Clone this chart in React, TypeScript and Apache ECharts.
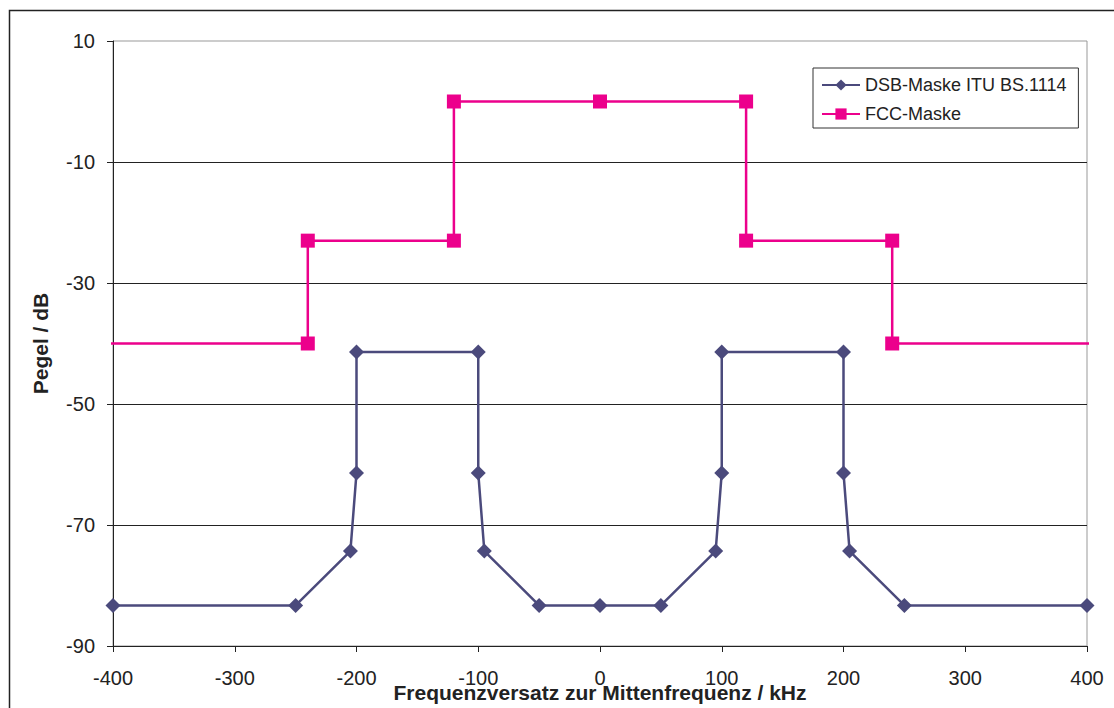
import React, { useEffect, useRef } from "react";
import * as echarts from "echarts";

const dsbX = [-400, -250, -205, -200, -200, -100, -100, -95, -50, 0, 50, 95, 100, 100, 200, 200, 205, 250, 400];
const dsbY = [-83.3, -83.3, -74.3, -61.4, -41.4, -41.4, -61.4, -74.3, -83.3, -83.3, -83.3, -74.3, -61.4, -41.4, -41.4, -61.4, -74.3, -83.3, -83.3];
const fccX = [-407, -240, -240, -120, -120, 0, 120, 120, 240, 240, 408];
const fccY = [-40, -40, -23, -23, 0, 0, 0, -23, -23, -40, -40];
const yTicks = [-90, -70, -50, -30, -10, 10];
const seriesNames = ["DSB-Maske ITU BS.1114", "FCC-Maske"];
const xTitle = "Frequenzversatz zur Mittenfrequenz / kHz";
const yTitle = "Pegel / dB";

const FONT = "'Liberation Sans', Arial, sans-serif";

export default function App() {
  const ref = useRef<HTMLDivElement>(null);
  useEffect(() => {
    if (!ref.current) return;
    const chart = echarts.init(ref.current, null, { renderer: "svg" });
    const fccData = fccX.map((x, i) => {
      const item: any = { value: [x, fccY[i]] };
      if (i === 0 || i === fccX.length - 1) item.symbol = "none";
      return item;
    });
    chart.setOption({
      animation: false,
      backgroundColor: "#ffffff",
      textStyle: { fontFamily: FONT },
      graphic: [
        {
          type: "rect",
          shape: { x: 9.5, y: 10.5, width: 1200, height: 1000 },
          style: { fill: "none", stroke: "#222", lineWidth: 1.5 },
          silent: true,
          z: -10,
        },
      ],
      grid: {
        left: 113,
        right: 27,
        top: 41,
        bottom: 62,
        containLabel: false,
        outerBoundsMode: "none",
        show: true,
        borderColor: "#999",
        borderWidth: 1,
        backgroundColor: "transparent",
      },
      legend: {
        orient: "vertical",
        left: 813,
        top: 68,
        padding: [8, 12, 5, 8],
        itemGap: 11,
        itemWidth: 38,
        itemHeight: 14,
        itemTextGap: 6,
        borderColor: "#333",
        borderWidth: 1,
        backgroundColor: "#fff",
        textStyle: { fontFamily: FONT, fontSize: 18, color: "#222" },
        data: seriesNames,
      },
      xAxis: {
        type: "value",
        min: -400,
        max: 400,
        interval: 100,
        name: xTitle,
        nameLocation: "middle",
        nameGap: 36,
        nameMoveOverlap: false,
        nameTextStyle: { fontFamily: FONT, fontSize: 21, fontWeight: "bold", color: "#222" },
        axisLine: { show: true, onZero: false, lineStyle: { color: "#222", width: 1 } },
        axisTick: { show: true, inside: false, length: 6, lineStyle: { color: "#222" } },
        axisLabel: { fontFamily: FONT, fontSize: 20, color: "#222", margin: 22 },
        splitLine: { show: false },
      },
      yAxis: {
        type: "value",
        min: -90,
        max: 10,
        name: yTitle,
        nameLocation: "middle",
        nameGap: 62,
        nameRotate: 90,
        nameMoveOverlap: false,
        nameTextStyle: { fontFamily: FONT, fontSize: 21, fontWeight: "bold", color: "#222" },
        axisLine: { show: true, onZero: false, lineStyle: { color: "#222", width: 1 } },
        axisTick: { show: true, inside: false, length: 6, lineStyle: { color: "#222" }, customValues: yTicks },
        axisLabel: { fontFamily: FONT, fontSize: 20, color: "#222", margin: 18, customValues: yTicks },
        splitLine: { show: true, showMinLine: false, showMaxLine: false, lineStyle: { color: "#222", width: 1 } },
      },
      series: [
        {
          name: seriesNames[0],
          type: "line",
          data: dsbX.map((x, i) => [x, dsbY[i]]),
          symbol: "diamond",
          symbolSize: 15,
          clip: false,
          color: "#4B4A7C",
          lineStyle: { color: "#4B4A7C", width: 2.5 },
          itemStyle: { color: "#4B4A7C" },
          z: 3,
        },
        {
          name: seriesNames[1],
          type: "line",
          data: fccData,
          symbol: "rect",
          symbolSize: 14,
          clip: false,
          color: "#EC008C",
          lineStyle: { color: "#EC008C", width: 2.5 },
          itemStyle: { color: "#EC008C" },
          z: 4,
        },
      ],
    });
    return () => chart.dispose();
  }, []);
  return (
    <div
      ref={ref}
      style={{ position: "fixed", left: 0, top: 0, width: 1114, height: 708, background: "#fff" }}
    />
  );
}
